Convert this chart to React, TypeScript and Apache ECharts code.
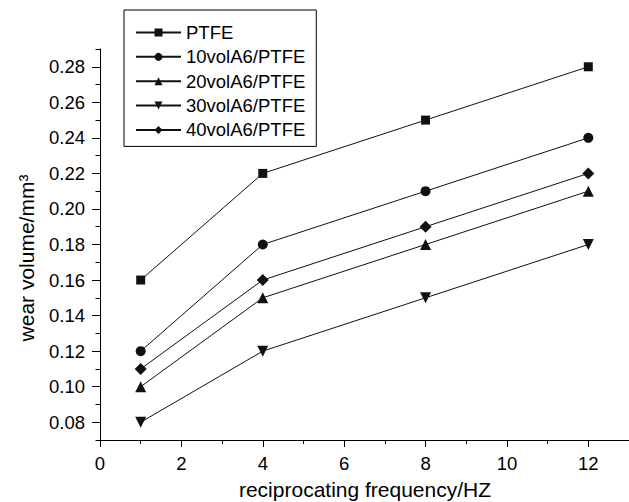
import React, { useEffect, useRef } from "react";
import * as echarts from "echarts";

const frequency = [1, 4, 8, 12];
const seriesNames = ["PTFE", "10volA6/PTFE", "20volA6/PTFE", "30volA6/PTFE", "40volA6/PTFE"];
const ptfe = [0.16, 0.22, 0.25, 0.28];
const vol10 = [0.12, 0.18, 0.21, 0.24];
const vol20 = [0.1, 0.15, 0.18, 0.21];
const vol30 = [0.08, 0.12, 0.15, 0.18];
const vol40 = [0.11, 0.16, 0.19, 0.22];
const xTickValues = [0, 2, 4, 6, 8, 10, 12];
const xMinorTickValues = [1, 3, 5, 7, 9, 11];
const yTickValues = [0.08, 0.1, 0.12, 0.14, 0.16, 0.18, 0.2, 0.22, 0.24, 0.26, 0.28];
const yMinorTickValues = [0.07, 0.09, 0.11, 0.13, 0.15, 0.17, 0.19, 0.21, 0.23, 0.25, 0.27, 0.29];

const FONT = "'Liberation Sans', Arial, Helvetica, sans-serif";

export default function App() {
  const ref = useRef<HTMLDivElement>(null);
  useEffect(() => {
    if (!ref.current) return;
    const chart = echarts.init(ref.current, undefined, { renderer: "svg" });
    const allValues = [ptfe, vol10, vol20, vol30, vol40];
    const symbols = [
      { symbol: "rect", size: 9 },
      { symbol: "circle", size: 10 },
      { symbol: "triangle", size: 11 },
      { symbol: "path://M0,0 L10,0 L5,9 Z", size: 11 },
      { symbol: "diamond", size: 12 },
    ];
    const series = allValues.map((vals, i) => ({
      name: seriesNames[i],
      type: "line",
      xAxisIndex: 0,
      yAxisIndex: 0,
      data: frequency.map((f, j) => [f, vals[j]]),
      symbol: symbols[i].symbol,
      symbolSize: symbols[i].size,
      showAllSymbol: true,
      lineStyle: { color: "#111", width: 1 },
      itemStyle: { color: "#111", borderWidth: 0 },
      emphasis: { disabled: true },
    }));
    const axisLineStyle = { color: "#000", width: 1 };
    chart.setOption({
      animation: false,
      backgroundColor: "#fff",
      grid: { left: 100, right: 0, top: 49, bottom: 62, outerBoundsMode: "none", containLabel: false },
      legend: {
        orient: "vertical",
        left: 124,
        top: 10,
        padding: [13, 11, 7, 11],
        itemGap: 5.35,
        itemWidth: 45,
        itemHeight: 10,
        borderColor: "#000",
        borderWidth: 1,
        data: seriesNames,
        textStyle: { fontFamily: FONT, fontSize: 18.5, color: "#000", lineHeight: 18 },
      },
      xAxis: [
        {
          type: "value",
          min: 0,
          max: 13,
          position: "bottom",
          splitLine: { show: false },
          axisLine: { show: true, lineStyle: axisLineStyle },
          axisTick: { show: true, inside: false, length: 7, customValues: xTickValues, lineStyle: axisLineStyle },
          axisLabel: { customValues: xTickValues, margin: 14, fontSize: 18.5, fontFamily: FONT, color: "#000" },
        },
        {
          type: "value",
          min: 0,
          max: 13,
          position: "bottom",
          offset: 0,
          splitLine: { show: false },
          axisLine: { show: false },
          axisTick: { show: true, inside: false, length: 4, customValues: xMinorTickValues, lineStyle: axisLineStyle },
          axisLabel: { show: false },
        },
      ],
      yAxis: [
        {
          type: "value",
          min: 0.07,
          max: 0.29,
          position: "left",
          splitLine: { show: false },
          axisLine: { show: true, lineStyle: axisLineStyle },
          axisTick: { show: true, inside: false, length: 8, customValues: yTickValues, lineStyle: axisLineStyle },
          axisLabel: {
            customValues: yTickValues,
            margin: 15,
            fontSize: 18.5,
            fontFamily: FONT,
            color: "#000",
            formatter: (v: number) => v.toFixed(2),
          },
        },
        {
          type: "value",
          min: 0.07,
          max: 0.29,
          position: "left",
          offset: 0,
          splitLine: { show: false },
          axisLine: { show: false },
          axisTick: { show: true, inside: false, length: 4.5, customValues: yMinorTickValues, lineStyle: axisLineStyle },
          axisLabel: { show: false },
        },
      ],
      graphic: [
        {
          type: "text",
          x: 365,
          y: 489,
          style: {
            text: "reciprocating frequency/HZ",
            font: `21px ${FONT}`,
            fill: "#000",
            align: "center",
            verticalAlign: "middle",
            textAlign: "center",
            textVerticalAlign: "middle",
          },
        },
        {
          type: "text",
          x: 26,
          y: 258,
          rotation: Math.PI / 2,
          style: {
            text: "wear volume/mm³",
            font: `21px ${FONT}`,
            fill: "#000",
            align: "center",
            verticalAlign: "middle",
            textAlign: "center",
            textVerticalAlign: "middle",
          },
        },
      ],
      series,
    });
    return () => chart.dispose();
  }, []);
  return <div ref={ref} style={{ position: "absolute", left: 0, top: 0, width: 629, height: 502 }} />;
}
